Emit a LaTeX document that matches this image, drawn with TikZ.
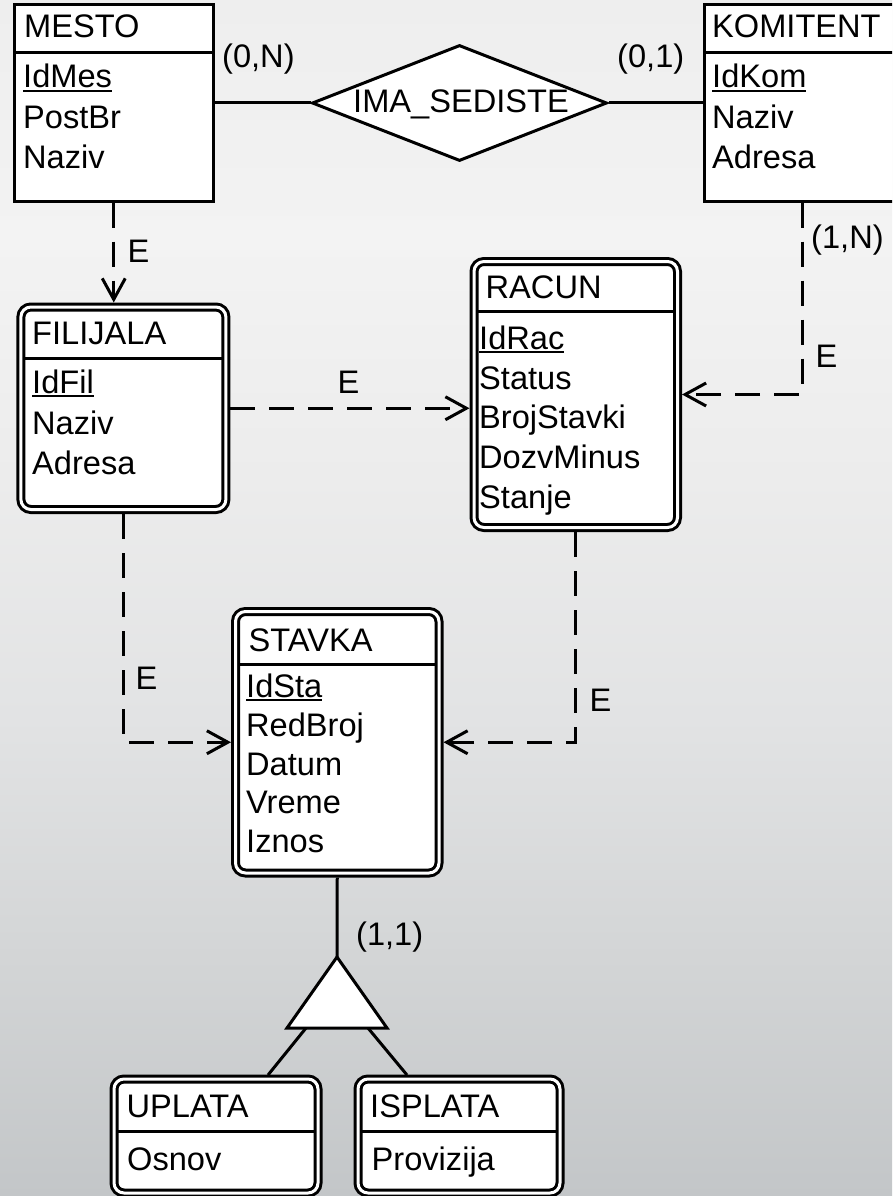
\documentclass[tikz,border=0pt]{standalone}
\usepackage{fontspec}
\setmainfont{Liberation Sans}
\usetikzlibrary{arrows.meta,shapes.geometric}
\definecolor{bgA}{HTML}{C3C6C8}
\definecolor{bgB}{HTML}{D3D5D6}
\definecolor{bgC}{HTML}{E2E3E4}
\definecolor{bgD}{HTML}{ECECEC}
\definecolor{bgE}{HTML}{F3F3F3}
\definecolor{bgF}{HTML}{EEEEEE}
\pgfdeclareverticalshading{bgshade}{100bp}{color(0bp)=(bgA); color(25bp)=(bgA); color(35bp)=(bgB); color(45bp)=(bgC); color(55bp)=(bgD); color(65bp)=(bgE); color(75bp)=(bgF); color(100bp)=(bgF)}
\newcommand\ulx[1]{\setbox0\hbox{#1}\rlap{\rule[-4pt]{\wd0}{2pt}}\box0}
\tikzset{
  ent/.style={draw, fill=white, line width=3pt, inner sep=0pt, outer sep=1.5pt},
  went/.style={draw, fill=white, line width=3pt, double=white, double distance=3pt, rounded corners=10pt, inner sep=0pt, outer sep=4.5pt},
  txt/.style={anchor=base west, inner sep=0pt, font=\fontsize{32.6}{38}\selectfont},
  conn/.style={line width=3pt},
  dconn/.style={line width=3pt, dash pattern=on 25pt off 14pt, -{Straight Barb[length=21pt,width=23pt]}},
  divl/.style={line width=3pt},
}
\begin{document}
\begin{tikzpicture}[x=1pt,y=-1pt]
\useasboundingbox (0,0) rectangle (892,1196);
\shade[shading=bgshade] (0,0) rectangle (892,1196);
\begin{scope}
\clip (0,0) rectangle (892,1196);
% entities
\node[ent, minimum width=198.5pt, minimum height=196pt] (mesto) at (113.75,103) {};
\node[ent, minimum width=196pt, minimum height=196pt] (komitent) at (802,103) {};
\node[went, minimum width=205pt, minimum height=202.5pt] (filijala) at (123.4,408.25) {};
\node[went, minimum width=203.5pt, minimum height=266pt] (racun) at (575.75,394.5) {};
\node[went, minimum width=203.5pt, minimum height=261.5pt] (stavka) at (337.25,742.25) {};
\node[went, minimum width=204pt, minimum height=114pt] (uplata) at (216,1136) {};
\node[went, minimum width=202pt, minimum height=114pt] (isplata) at (459,1136) {};
% dividers
\draw[divl, shorten <=1.5pt, shorten >=1.5pt] (mesto.west |- 0,52.5) -- (mesto.east |- 0,52.5);
\draw[divl, shorten <=1.5pt, shorten >=1.5pt] (komitent.west |- 0,52.5) -- (komitent.east |- 0,52.5);
\draw[divl, shorten <=7.5pt, shorten >=7.5pt] (filijala.west |- 0,358) -- (filijala.east |- 0,358);
\draw[divl, shorten <=7.5pt, shorten >=7.5pt] (racun.west |- 0,311) -- (racun.east |- 0,311);
\draw[divl, shorten <=7.5pt, shorten >=7.5pt] (stavka.west |- 0,664) -- (stavka.east |- 0,664);
\draw[divl, shorten <=7.5pt, shorten >=7.5pt] (uplata.west |- 0,1131.5) -- (uplata.east |- 0,1131.5);
\draw[divl, shorten <=7.5pt, shorten >=7.5pt] (isplata.west |- 0,1131.5) -- (isplata.east |- 0,1131.5);
% relationship
\node[diamond, draw, fill=white, line width=3pt, inner sep=0pt, minimum width=295pt, minimum height=116pt] (ima) at (459.5,103) {};
\node[txt, anchor=base] (imalbl) at (461,113) {IMA\_SEDISTE};
\draw[conn] (mesto.east) -- (ima.west);
\draw[conn] (ima.east) -- (komitent.west);
% specialization triangle
\coordinate (tapex) at (337,957);
\coordinate (tbl) at (287,1028);
\coordinate (tbr) at (387,1028);
\coordinate (tb1) at (306,1028);
\coordinate (tb2) at (368,1028);
\coordinate (upin) at (268,1075);
\coordinate (ispin) at (407,1075);
\draw[conn, fill=white, line join=miter] (tapex) -- (tbl) -- (tbr) -- cycle;
\draw[conn] (stavka.south) -- (tapex);
\draw[conn] (tb1) -- (upin);
\draw[conn] (tb2) -- (ispin);
% existence dependencies
\draw[dconn] (mesto.south) -- (mesto.south |- filijala.north);
\draw[dconn] (komitent.south) |- (racun.east);
\draw[dconn] (filijala.east) -- (filijala.east -| racun.west);
\draw[dconn] (filijala.south) |- (stavka.west);
\draw[dconn] (racun.south) |- (stavka.east);
% texts
\node[txt] (tmesto) at (24,38) {MESTO};
\node[txt] (a1) at (23,88) {\ulx{IdMes}};
\node[txt] (a2) at (23,128.5) {PostBr};
\node[txt] (a3) at (23,168) {Naziv};
\node[txt] (tkom) at (712,38) {KOMITENT};
\node[txt] (b1) at (712,88) {\ulx{IdKom}};
\node[txt] (b2) at (712,128.5) {Naziv};
\node[txt] (b3) at (712,168) {Adresa};
\node[txt] (tfil) at (32,344) {FILIJALA};
\node[txt] (c1) at (32,393) {\ulx{IdFil}};
\node[txt] (c2) at (32,434) {Naziv};
\node[txt] (c3) at (32,474) {Adresa};
\node[txt] (trac) at (485.5,298) {RACUN};
\node[txt] (d1) at (479,349) {\ulx{IdRac}};
\node[txt] (d2) at (479,389) {Status};
\node[txt] (d3) at (479,428.5) {BrojStavki};
\node[txt] (d4) at (479,468) {DozvMinus};
\node[txt] (d5) at (479,508) {Stanje};
\node[txt] (tsta) at (248.5,651) {STAVKA};
\node[txt] (e1) at (246,697) {\ulx{IdSta}};
\node[txt] (e2) at (246,736) {RedBroj};
\node[txt] (e3) at (246,775) {Datum};
\node[txt] (e4) at (246,813.5) {Vreme};
\node[txt] (e5) at (246,852) {Iznos};
\node[txt] (tupl) at (126.5,1117) {UPLATA};
\node[txt] (f1) at (127,1170) {Osnov};
\node[txt] (tisp) at (370,1117) {ISPLATA};
\node[txt] (g1) at (371.5,1170) {Provizija};
% cardinalities
\node[txt] (k1) at (222,68) {(0,N)};
\node[txt] (k2) at (617,68) {(0,1)};
\node[txt] (k3) at (811,248) {(1,N)};
\node[txt] (k4) at (356,945) {(1,1)};
% E labels
\node[txt] (l1) at (127.5,262) {E};
\node[txt] (l2) at (815.5,367) {E};
\node[txt] (l3) at (337.5,393) {E};
\node[txt] (l4) at (135.5,689) {E};
\node[txt] (l5) at (589.5,711) {E};
\end{scope}
\end{tikzpicture}
\end{document}
